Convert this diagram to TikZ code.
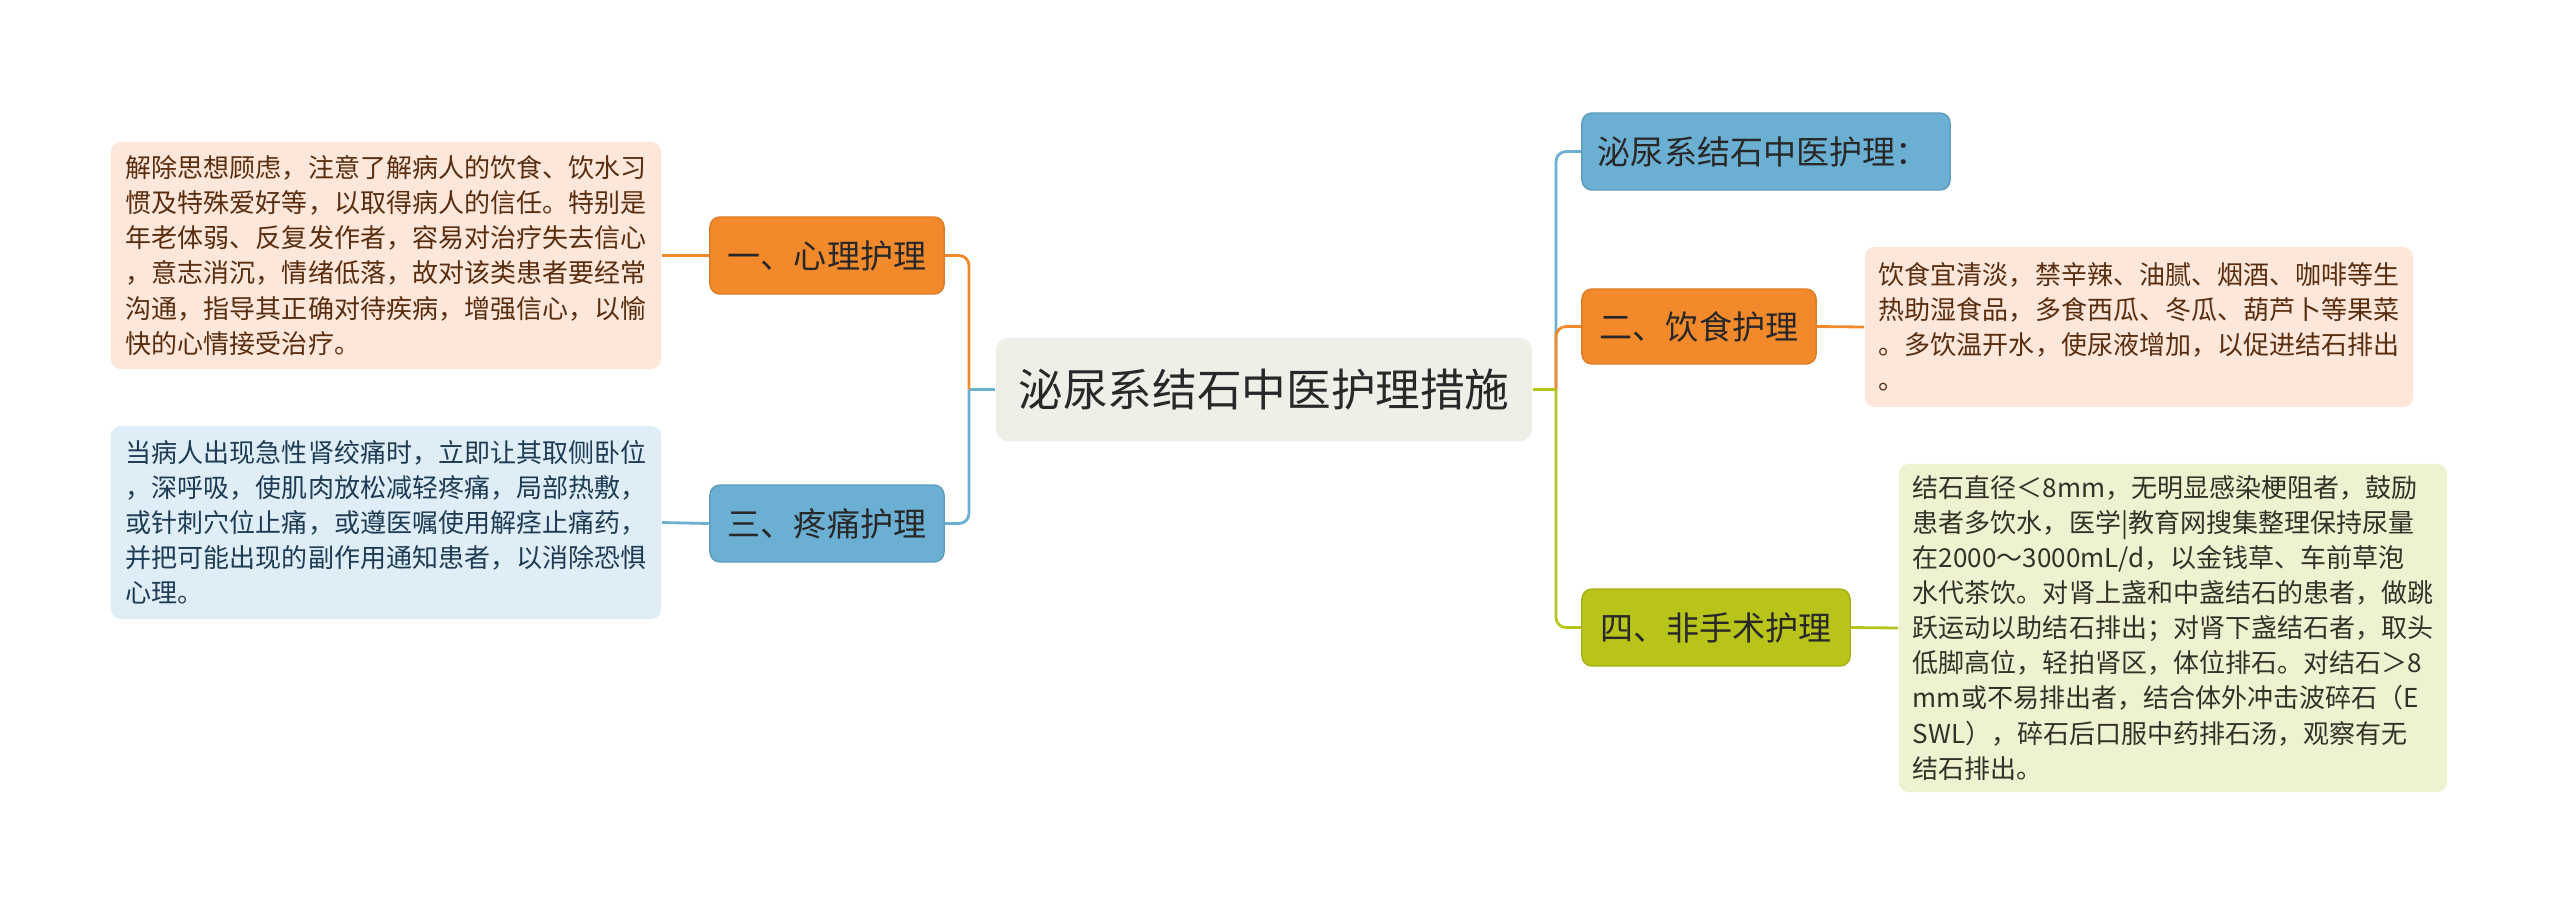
\documentclass[tikz,border=0pt]{standalone}
\usepackage{fontspec}
\setmainfont{Noto Sans CJK SC}
\usepackage{tikz}
\usetikzlibrary{positioning}
\usepackage{xcolor}
\definecolor{orangeb}{RGB}{242,138,44}
\definecolor{blueb}{RGB}{107,175,210}
\definecolor{greenb}{RGB}{185,196,26}
\definecolor{orangen}{RGB}{253,231,218}
\definecolor{bluen}{RGB}{223,237,246}
\definecolor{greenn}{RGB}{239,242,208}
\definecolor{corefill}{RGB}{239,239,232}
\definecolor{browntext}{RGB}{90,45,15}
\definecolor{navytext}{RGB}{30,60,85}
\definecolor{olivetext}{RGB}{50,50,40}
\definecolor{darktext}{RGB}{40,40,40}
\newcommand\fsnote{\fontsize{7.4pt}{9.96pt}\selectfont}
\newcommand\fsbranch{\fontsize{9.4pt}{11pt}\selectfont}
\newcommand\fstitle{\fontsize{12.7pt}{14pt}\selectfont}

\begin{document}
\begin{tikzpicture}[x=0.01cm,y=-0.01cm]
  \tikzstyle{NoteStyle}=[rounded corners=0.1cm, inner xsep=0.14cm, align=left,
    text width=5.2cm, minimum width=5.5cm, font=\fsnote]
  \tikzstyle{BranchStyle}=[rounded corners=0.1cm, minimum height=0.77cm,
    inner xsep=0.16cm, text=darktext, font=\fsbranch]
  \tikzstyle{LinkStyle}=[line width=0.8pt, rounded corners=0.1cm]
  \useasboundingbox (0,0) rectangle (2560,905);

  % centre
  \node[rounded corners=0.12cm, fill=corefill, text=darktext, font=\fstitle,
    minimum width=5.36cm, minimum height=1.03cm] (core) at (1264,389.5) {泌尿系结石中医护理措施};

  % left branches
  \node[BranchStyle, fill=orangeb, draw=orangeb!90!black, minimum width=2.34cm] (mind) at (827,255.5) {一、心理护理};
  \node[BranchStyle, fill=blueb, draw=blueb!90!black, minimum width=2.34cm] (pain) at (827,523.5) {三、疼痛护理};

  \node[NoteStyle, fill=orangen, text=browntext, minimum height=2.27cm] (mindnote) at (386,255.5)
    {解除思想顾虑，注意了解病人的饮食、饮水习\\惯及特殊爱好等，以取得病人的信任。特别是\\年老体弱、反复发作者，容易对治疗失去信心\\，意志消沉，情绪低落，故对该类患者要经常\\沟通，指导其正确对待疾病，增强信心，以愉\\快的心情接受治疗。};
  \node[NoteStyle, fill=bluen, text=navytext, minimum height=1.93cm] (painnote) at (386,522.5)
    {当病人出现急性肾绞痛时，立即让其取侧卧位\\，深呼吸，使肌肉放松减轻疼痛，局部热敷，\\或针刺穴位止痛，或遵医嘱使用解痉止痛药，\\并把可能出现的副作用通知患者，以消除恐惧\\心理。};

  % right branches
  \node[BranchStyle, fill=blueb, draw=blueb!90!black, text width=3.36cm, align=left] (tcm) at (1766,151.5) {泌尿系结石中医护理：};
  \node[BranchStyle, fill=orangeb, draw=orangeb!90!black, minimum width=2.34cm, minimum height=0.75cm] (diet) at (1699,326.5) {二、饮食护理};
  \node[BranchStyle, fill=greenb, draw=greenb!90!black, minimum width=2.68cm] (nonsurg) at (1716,627.5) {四、非手术护理};

  \node[NoteStyle, fill=orangen, text=browntext, minimum width=5.48cm, minimum height=1.60cm] (dietnote) at (2139,327)
    {饮食宜清淡，禁辛辣、油腻、烟酒、咖啡等生\\热助湿食品，多食西瓜、冬瓜、葫芦卜等果菜\\。多饮温开水，使尿液增加，以促进结石排出\\。};
  \node[NoteStyle, fill=greenn, text=olivetext, minimum width=5.48cm, minimum height=3.28cm] (nonsurgnote) at (2173,628)
    {结石直径＜8mm，无明显感染梗阻者，鼓励\\患者多饮水，医学|教育网搜集整理保持尿量\\在2000～3000mL/d，以金钱草、车前草泡\\水代茶饮。对肾上盏和中盏结石的患者，做跳\\跃运动以助结石排出；对肾下盏结石者，取头\\低脚高位，轻拍肾区，体位排石。对结石＞8\\mm或不易排出者，结合体外冲击波碎石（E\\SWL），碎石后口服中药排石汤，观察有无\\结石排出。};

  % junctions
  \coordinate (lj) at (969,389.5);
  \coordinate (rj) at (1556,389.5);

  \draw[LinkStyle, blueb] (core.west) -- (lj);
  \draw[LinkStyle, orangeb] (lj) |- (mind.east);
  \draw[LinkStyle, blueb] (lj) |- (pain.east);
  \draw[LinkStyle, orangeb] (mind.west) -- (mindnote.east);
  \draw[LinkStyle, blueb] (pain.west) -- (painnote.east);

  \draw[LinkStyle, blueb] (rj) |- (tcm.west);
  \draw[LinkStyle, orangeb] (rj) |- (diet.west);
  \draw[LinkStyle, greenb] (core.east) -- (rj);
  \draw[LinkStyle, greenb] (rj) |- (nonsurg.west);
  \draw[LinkStyle, orangeb] (diet.east) -- (dietnote.west);
  \draw[LinkStyle, greenb] (nonsurg.east) -- (nonsurgnote.west);
\end{tikzpicture}
\end{document}
